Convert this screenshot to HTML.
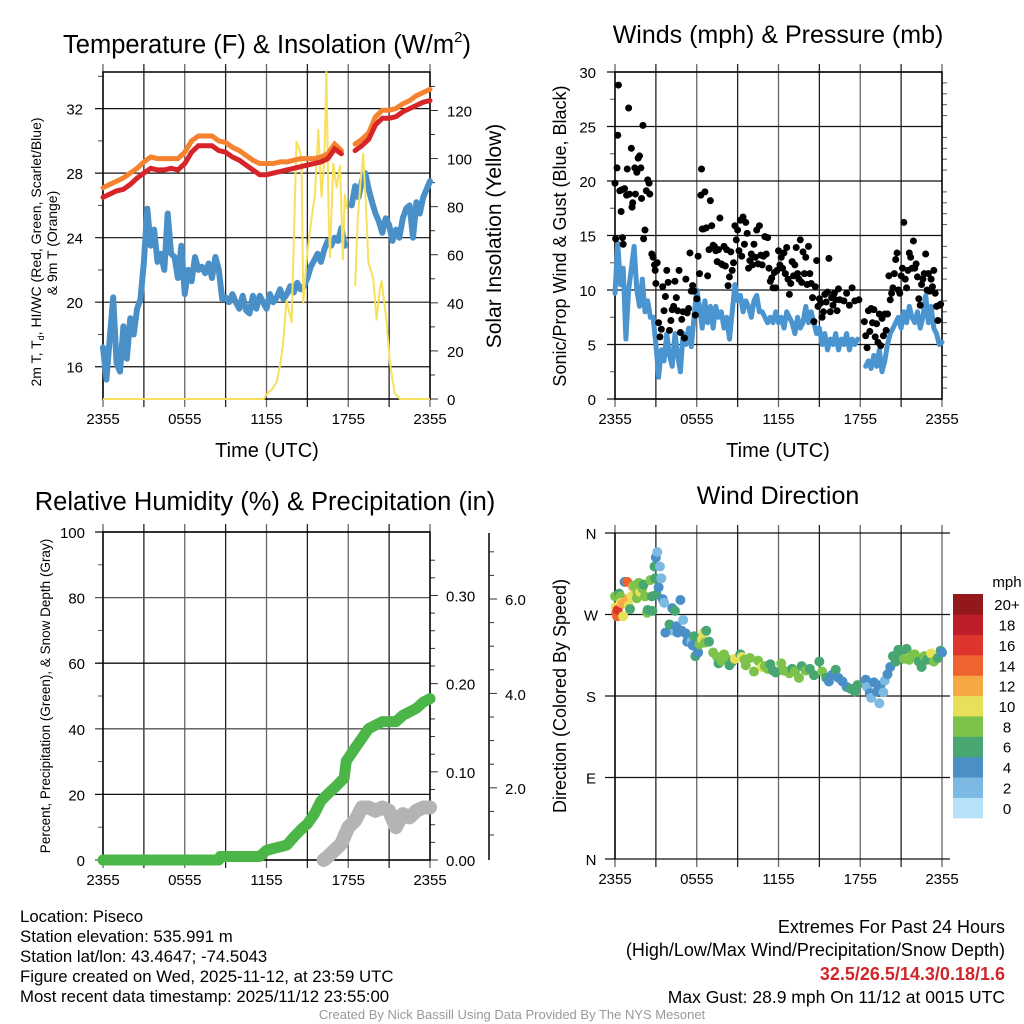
<!DOCTYPE html>
<html><head><meta charset="utf-8"><style>
html,body{margin:0;padding:0;background:#fff}
svg{display:block;font-family:"Liberation Sans",sans-serif}
</style></head><body>
<svg id="fig" width="1024" height="1024" viewBox="0 0 1024 1024"></svg>
<script>
// ---------- DATA ----------
const xTickLabels=["2355","0555","1155","1755","2355"];
const tempStep=0.5;
const temp2m=[26.5,26.7,26.9,27.0,27.3,27.7,28.0,28.3,28.2,28.2,28.3,28.2,28.6,29.3,29.7,29.7,29.7,29.4,29.3,29.0,28.8,28.5,28.2,27.9,27.9,28.0,28.1,28.2,28.3,28.4,28.5,28.6,28.7,28.9,29.5,29.2,null,29.4,29.7,30.1,31.0,31.4,31.4,31.5,31.8,32.0,32.2,32.4,32.5];
const temp9m=[27.1,27.3,27.5,27.7,28.0,28.3,28.7,29.0,28.9,28.9,28.9,28.9,29.3,30.0,30.3,30.3,30.3,30.0,29.9,29.6,29.4,29.1,28.8,28.6,28.6,28.6,28.7,28.7,28.8,28.9,28.9,28.9,29.0,29.2,29.8,29.4,null,29.8,30.1,30.5,31.5,31.9,31.9,32.0,32.3,32.5,32.8,33.0,33.2];
const dewStep=0.25;
const dewPoint=[17.2,15.2,17.8,20.3,16.2,15.7,18.5,16.5,19.0,18.0,19.6,20.2,22.5,25.8,23.5,24.5,22.5,23.0,22.0,25.5,23.0,22.8,21.5,23.5,20.5,22.0,21.3,22.8,22.0,22.2,21.8,22.4,21.5,22.8,22.0,20.2,20.3,20.0,20.5,20.0,19.6,20.4,19.5,19.3,20.4,19.6,20.4,20.0,19.6,20.5,20.0,20.3,20.8,20.2,20.5,21.0,20.6,21.2,20.8,21.0,21.5,22.2,22.6,23.0,22.5,23.3,23.8,23.5,24.0,23.8,24.6,23.5,null,26.0,27.2,26.5,27.5,28.0,27.0,26.2,25.5,25.0,24.3,25.2,24.8,23.8,24.5,24.0,25.2,25.8,26.0,24.0,26.2,25.5,26.5,27.0,27.5];
const solarHours=[0,11.8,12.0,12.4,12.74,13.0,13.2,13.47,13.84,14.05,14.2,14.4,14.57,14.7,14.9,15.06,15.3,15.55,15.8,16.04,16.25,16.4,16.55,16.65,16.9,17.14,17.4,17.6,17.75,17.9,null,18.5,18.7,18.9,19.1,19.3,19.47,19.84,20.08,20.3,20.45,20.8,21.06,21.4,21.8,24];
const solarValues=[0,0,2,4,7,14,22,41,32,75,107,104,100,40,55,64,75,85,112,84,100,136,80,59,98,88,97,58,85,79,null,47,75,90,102,80,57,50,33,45,49,33,15,2.5,0,0];
const windStep=0.2;
const windSpeed=[9.7,14.3,10.5,12.0,5.5,10.0,12.0,14.0,10,8.5,11.0,8.0,9.0,7.5,7.5,5.0,2.0,4.5,3.5,6.0,4.0,3.0,6.0,4.0,2.5,6.0,5.0,6.5,4.8,7.5,10.0,8.5,6.5,9.0,7.0,8.5,6.5,8.5,7.5,8.0,6.5,7.5,5.5,8.0,10.5,9.0,9.5,8.0,9.0,8.5,7.5,9.0,9.5,8.0,8.0,7.5,7.0,7.5,7.0,8.0,7.0,7.5,6.5,8.0,7.5,7.0,6.0,7.5,6.5,7.0,8.5,7.0,8.0,7.0,6.0,6.5,5.0,6.0,4.5,5.5,5.0,6.0,4.5,5.5,5.0,6.0,4.5,5.5,5.0,5.5,null,null,3.0,3.5,2.8,4.0,3.0,4.5,2.5,3.5,5.0,6.0,6.5,7.0,7.5,6.5,8.0,7.0,8.5,7.5,7.0,8.0,6.5,7.5,9.5,7.0,8.5,6.5,6.0,5.0,5.2];
const gustHours=[0,0.05,0.15,0.2,0.25,0.35,0.45,0.5,0.55,0.6,0.7,0.85,0.9,1.0,1.05,1.2,1.25,1.3,1.45,1.5,1.6,1.7,1.8,1.9,1.95,2.05,2.1,2.2,2.3,2.4,2.5,2.55,2.7,2.8,2.9,2.95,3.0,3.1,3.2,3.3,3.4,3.5,3.6,3.7,3.8,3.9,4.0,4.1,4.2,4.3,4.4,4.5,4.6,4.7,4.8,4.9,5.0,5.1,5.2,5.3,5.4,5.5,5.6,5.7,5.8,5.9,6.0,6.1,6.2,6.3,6.35,6.4,6.5,6.6,6.7,6.8,6.9,7.0,7.1,7.2,7.3,7.4,7.5,7.6,7.7,7.8,7.9,8.0,8.1,8.2,8.3,8.4,8.5,8.6,8.7,8.8,8.9,9.0,9.1,9.2,9.3,9.4,9.5,9.6,9.7,9.8,9.9,10.0,10.1,10.2,10.3,10.4,10.5,10.6,10.7,10.8,10.9,11.0,11.1,11.2,11.3,11.4,11.5,11.6,11.7,11.8,11.9,12.0,12.1,12.2,12.3,12.4,12.5,12.6,12.7,12.8,12.9,13.0,13.1,13.2,13.3,13.4,13.5,13.6,13.7,13.8,13.9,14.0,14.1,14.2,14.3,14.4,14.5,14.6,14.7,14.8,14.9,15.0,15.1,15.2,15.3,15.4,15.5,15.6,15.7,15.8,15.9,16.0,16.1,16.2,16.3,16.4,16.5,16.8,17.0,17.2,17.4,17.6,17.9,18.3,18.4,18.5,18.6,18.7,18.8,18.9,19.0,19.1,19.2,19.3,19.4,19.5,19.6,19.7,19.8,19.9,20.0,20.1,20.2,20.3,20.4,20.5,20.6,20.7,20.8,20.9,21.0,21.1,21.2,21.3,21.4,21.5,21.6,21.7,21.8,21.9,22.0,22.1,22.2,22.3,22.4,22.5,22.6,22.7,22.8,22.9,23.0,23.1,23.2,23.3,23.4,23.5,23.6,23.7,23.8,23.9];
const gustValues=[19.8,14.7,21.2,24.2,28.8,19.1,17.2,19.2,14.8,14.2,19.3,18.7,21.1,26.7,18.8,23.0,17.6,18.0,21.2,18.8,20.8,22.1,22.3,21.2,18.4,25.1,14.7,15.5,19.1,20.1,19.8,18.8,13.3,13.0,12.3,11.8,10.6,12.5,7.0,5.7,6.4,10.3,8.1,9.4,11.8,10.7,6.3,7.2,8.2,8.5,10.8,9.3,8.1,11.8,6.1,7.3,8.0,5.6,11.0,7.9,8.3,13.4,9.9,10.4,9.9,7.7,9.2,13.1,11.5,18.7,21.1,15.6,15.6,19.0,15.7,11.3,13.7,18.2,15.9,14.1,14.0,13.6,12.6,13.7,16.6,12.4,12.3,14.0,12.2,13.7,10.4,11.2,13.5,11.8,12.5,15.9,14.6,15.5,13.6,16.4,13.1,16.7,14.2,16.2,15.2,12.0,12.7,13.3,12.3,14.2,13.0,15.5,12.4,15.9,13.2,12.3,13.1,14.9,13.3,14.8,12.0,10.8,11.1,10.2,11.6,10.2,11.8,13.6,12.3,13.0,12.0,13.4,11.5,13.9,11.0,9.6,10.6,12.6,11.3,12.3,13.9,11.5,11.0,14.6,10.7,13.5,11.5,13.0,10.5,14.0,11.5,10.6,9.3,7.1,10.3,12.7,8.5,9.2,8.8,7.5,8.0,9.6,8.9,9.8,12.9,8.0,9.3,8.6,9.7,9.1,8.1,10.1,9.1,9.0,9.7,8.6,10.2,9.0,9.1,7.1,5.8,4.7,8.1,6.2,8.3,7.0,8.2,5.7,6.9,5.2,7.8,4.9,7.4,5.8,7.8,6.3,7.8,11.3,9.1,9.7,10.2,11.5,12.8,13.4,10.0,9.7,11.3,12.0,16.2,11.0,10.2,11.8,13.4,13.0,12.0,14.5,12.0,12.4,11.2,9.2,8.6,10.5,11.0,11.5,13.3,10.0,11.5,9.9,11.0,10.3,11.8,9.7,8.5,7.2,8.6,8.7];
const precipHours=[0,8.5,8.6,11.5,12,12.5,13,13.5,14,14.5,15,15.5,16,16.5,17,17.7,17.85,18.5,19,19.5,20,20.5,21,21.5,22,22.5,23,23.5,24];
const precipValues=[0,0,0.004,0.004,0.011,0.013,0.015,0.017,0.026,0.034,0.041,0.052,0.067,0.075,0.082,0.093,0.112,0.127,0.138,0.149,0.153,0.157,0.157,0.157,0.164,0.168,0.172,0.179,0.183];
const snowHours=[16.2,16.5,17,17.5,18,18.5,19,19.5,20,20.5,21,21.5,22,22.5,23,23.5,24];
const snowPercent=[0,1,3,5,10,12,16,16,15,16,15,10,14,13,15,16,16];
const dirHours=[0.0,0.05,0.1,0.15,0.2,0.3,0.4,0.45,0.55,0.6,0.7,0.9,0.95,1.0,1.1,1.2,1.3,1.4,1.5,1.6,1.65,1.75,1.85,2.0,2.1,2.2,2.35,2.4,2.6,2.7,2.75,2.9,2.95,3.0,3.1,3.05,3.2,3.3,3.4,3.5,3.6,4.2,4.4,4.8,4.3,3.7,4.0,4.5,4.6,4.9,5.0,5.2,5.3,5.6,5.7,5.8,5.9,6.0,6.1,6.2,6.4,6.5,6.6,6.7,6.9,7.2,7.5,7.6,7.8,8.0,8.2,8.4,8.6,8.8,9.2,9.3,9.5,9.6,9.9,10.2,10.5,10.8,11.0,11.2,11.4,11.6,11.8,12.2,12.4,12.8,13.0,13.2,13.5,13.7,14.0,14.3,14.6,15.0,15.2,15.5,15.7,15.9,16.2,16.4,16.7,17.0,17.3,17.6,17.8,18.4,18.5,18.7,18.8,19.0,19.2,19.4,19.5,19.7,19.8,20.0,20.2,20.4,20.6,20.8,21.0,21.2,21.4,21.6,21.8,22.0,22.3,22.5,22.7,22.9,23.2,23.4,23.7,23.9,24.0];
const dirDegrees=[290,278,272,268,275,293,290,283,282,268,306,306,287,280,276,290,301,302,292,288,295,305,295,299,303,290,272,275,308,290,274,323,310,333,339,292,300,323,310,287,283,277,274,286,252,250,259,257,250,252,264,249,240,240,236,246,224,233,228,237,243,250,239,252,240,228,223,216,219,226,221,214,218,221,226,223,220,214,222,207,219,212,213,210,215,208,206,216,208,205,210,207,200,213,208,210,203,218,207,200,196,203,209,200,196,190,188,185,192,198,190,183,178,195,185,172,192,184,197,204,212,224,218,231,226,221,232,220,225,226,218,212,224,220,227,218,222,230,228];
const dirSpeeds=[8,10,15,15,16,7,8,10,12,10,4,15,12,10,7,10,12,8,10,9,8,8,11,8,7,8,8,7,9,6,6,7,6,4,2,6,4,2,2,4,3,4,6,4,3,4,6,4,5,4,2,4,4,2,4,6,6,4,4,8,10,10,8,6,6,8,8,7,8,8,8,6,7,10,6,10,8,8,8,8,8,10,8,8,6,6,6,8,8,8,6,8,8,6,8,6,6,6,8,6,5,4,6,4,4,4,6,6,6,4,2,4,2,4,4,2,4,2,2,4,4,6,6,6,6,8,6,8,8,8,6,6,8,6,10,8,6,6,4];
const speedBinLabels=["0","2","4","6","8","10","12","14","16","18","20+"];
const speedBinColors=["#b5e2f8","#7cb9e3","#4a8fc6","#48a672","#7cc24b","#e7e059","#f6a845","#ef6330","#dd352d","#bd1e29","#93181c"];

// ---------- HELPERS ----------
const svg=document.getElementById('fig');
const NS='http://www.w3.org/2000/svg';
function mk(tag,attrs,parent){const e=document.createElementNS(NS,tag);for(const k in attrs)e.setAttribute(k,attrs[k]);(parent||svg).appendChild(e);return e;}
function txt(s,x,y,size,anchor,parent,extra){const t=mk('text',Object.assign({x:x,y:y,'font-size':size,'text-anchor':anchor||'middle',fill:'#000'},extra||{}),parent);t.textContent=s;return t;}
function lin(d0,d1,r0,r1){return v=>r0+(v-d0)/(d1-d0)*(r1-r0);}
function pathFrom(xs,ys,sx,sy){let d='',pen=false;for(let i=0;i<ys.length;i++){if(ys[i]===null||xs[i]===null){pen=false;continue;}d+=(pen?'L':'M')+sx(xs[i]).toFixed(1)+','+sy(ys[i]).toFixed(1);pen=true;}return d;}
function timeGrid(g,L,R,T,B){
  const sx=lin(0,24,L,R);
  for(let i=0;i<=8;i++){const x=sx(i*3);mk('line',{x1:x,y1:T-8,x2:x,y2:B+8,stroke:i%2?'#222':'#666','stroke-width':1.3},g);}
  xTickLabels.forEach((s,i)=>{const t=txt(s,sx(i*6),B+25,15,'middle',g);});
  return sx;
}

// ---------- PANEL 1: Temperature ----------
(function(){
  const g=mk('g',{});
  const L=103,R=430,T=72,B=399;
  const sx=timeGrid(g,L,R,T,B);
  const sy=lin(14,34.27,B,T), sr=lin(0,136,B,T);
  [16,20,24,28,32].forEach(v=>{const y=sy(v);mk('line',{x1:L-8,y1:y,x2:R,y2:y,stroke:'#111','stroke-width':1.2},g);txt(String(v),83,y+6,15,'end',g);});
  [18,22,26,30,34].forEach(v=>mk('line',{x1:L-5,y1:sy(v),x2:L,y2:sy(v),stroke:'#444'},g));
  for(let v=0;v<=130;v+=10){const y=sr(v);mk('line',{x1:R,y1:y,x2:R+(v%20?5:8),y2:y,stroke:'#333'},g);if(v%20===0)txt(String(v),447,y+6,15,'start',g);}
  mk('rect',{x:L,y:T,width:R-L,height:B-T,fill:'none',stroke:'#000','stroke-width':1.5},g);
  const ti=temp2m.map((_,i)=>i*tempStep), di=dewPoint.map((_,i)=>i*dewStep);
  const dew=mk('path',{d:pathFrom(di,dewPoint,sx,sy),fill:'none',stroke:'#4a90c8','stroke-width':6,'stroke-linejoin':'round','stroke-linecap':'round'},g);
  
  const sol=mk('path',{d:pathFrom(solarHours,solarValues,sx,sr),fill:'none',stroke:'#f7e05a','stroke-width':2,'stroke-linejoin':'round'},g);
  
  const o=mk('path',{d:pathFrom(ti,temp9m,sx,sy),fill:'none',stroke:'#f5822e','stroke-width':5,'stroke-linecap':'round'},g);
  
  const r=mk('path',{d:pathFrom(ti,temp2m,sx,sy),fill:'none',stroke:'#d62428','stroke-width':5,'stroke-linecap':'round'},g);
  
  const t1=mk('text',{x:267,y:53,'font-size':25.5,'text-anchor':'middle'},g);t1.innerHTML='Temperature (F) &amp; Insolation (W/m<tspan font-size="15" dy="-11">2</tspan><tspan dy="11">)</tspan>';
  
  txt('Time (UTC)',267,457,20,'middle',g);
  const yl=mk('text',{x:0,y:0,'font-size':14,'text-anchor':'middle',transform:'translate(41,252) rotate(-90)'},g);
  yl.innerHTML='2m T, T<tspan font-size="9" dy="3">d</tspan><tspan dy="-3">, HI/WC (Red, Green, Scarlet/Blue)</tspan>';
  
  txt('& 9m T (Orange)',0,0,14,'middle',g,{transform:'translate(57,243) rotate(-90)'});
  const yr=txt('Solar Insolation (Yellow)',0,0,21,'middle',g,{transform:'translate(501,236) rotate(-90)'});
  
})();

// ---------- PANEL 2: Winds ----------
(function(){
  const g=mk('g',{});
  const L=615,R=942,T=72,B=399;
  const sx=timeGrid(g,L,R,T,B);
  const sy=lin(0,30,B,T);
  for(let v=0;v<=30;v+=5){const y=sy(v);mk('line',{x1:L-8,y1:y,x2:R,y2:y,stroke:'#111','stroke-width':1.2},g);txt(String(v),596,y+6,15,'end',g);}
  for(let v=1;v<30;v++){if(v%5)mk('line',{x1:R,y1:sy(v),x2:R+5,y2:sy(v),stroke:'#555'},g);}
  for(let v=2.5;v<30;v+=5)mk('line',{x1:L-5,y1:sy(v),x2:L,y2:sy(v),stroke:'#555'},g);
  mk('rect',{x:L,y:T,width:R-L,height:B-T,fill:'none',stroke:'#000','stroke-width':1.5},g);
  const wi=windSpeed.map((_,i)=>i*windStep);
  const w=mk('path',{d:pathFrom(wi,windSpeed,sx,sy),fill:'none',stroke:'#4a94d0','stroke-width':5,'stroke-linejoin':'round','stroke-linecap':'round'},g);
  
  gustHours.forEach((h,i)=>{const c=mk('circle',{cx:sx(h),cy:sy(gustValues[i]),r:3.5,fill:'#000'},g);
    });
  const t=txt('Winds (mph) & Pressure (mb)',778,43,25,'middle',g);
  txt('Time (UTC)',778,457,20,'middle',g);
  const yl=txt('Sonic/Prop Wind & Gust (Blue, Black)',0,0,18,'middle',g,{transform:'translate(566,236) rotate(-90)'});
  
})();

// ---------- PANEL 3: RH & Precip ----------
(function(){
  const g=mk('g',{});
  const L=103,R=430,T=532,B=860;
  const sx=timeGrid(g,L,R,T,B);
  const sy=lin(0,100,B,T), sp=lin(0,0.372,B,T);
  for(let v=0;v<=100;v+=20){const y=sy(v);mk('line',{x1:L-8,y1:y,x2:R,y2:y,stroke:v%40?'#111':'#555','stroke-width':1.3},g);txt(String(v),85,y+6,15,'end',g);}
  for(let v=10;v<100;v+=20)mk('line',{x1:L-5,y1:sy(v),x2:L,y2:sy(v),stroke:'#555'},g);
  for(let v=0;v<=0.36;v+=0.02){const y=sp(v);const maj=Math.round(v*100)%10===0;mk('line',{x1:R,y1:y,x2:R+(maj?8:5),y2:y,stroke:'#333'},g);if(maj)txt(v.toFixed(2),446,y+6,15,'start',g);}
  mk('line',{x1:489,y1:533,x2:489,y2:860,stroke:'#000','stroke-width':1.5},g);
  for(let k=-3;k<=10;k++){const y=599+k*23.6;if(y<540||y>856)continue;mk('line',{x1:489,y1:y,x2:(k%4===0)?497:494,y2:y,stroke:'#333'},g);}
  [['6.0',599],['4.0',694],['2.0',788]].forEach(a=>txt(a[0],505,a[1]+6,15,'start',g));
  mk('rect',{x:L,y:T,width:R-L,height:B-T,fill:'none',stroke:'#000','stroke-width':1.5},g);
  const s=mk('path',{d:pathFrom(snowHours,snowPercent,sx,sy),fill:'none',stroke:'#b4b4b4','stroke-width':14,'stroke-linejoin':'round','stroke-linecap':'round'},g);
  
  const p=mk('path',{d:pathFrom(precipHours,precipValues,sx,sp),fill:'none',stroke:'#4bb548','stroke-width':11,'stroke-linejoin':'round','stroke-linecap':'round'},g);
  
  const t=txt('Relative Humidity (%) & Precipitation (in)',265,510,25.5,'middle',g);
  const yl=txt('Percent, Precipitation (Green), & Snow Depth (Gray)',0,0,13.5,'middle',g,{transform:'translate(50,696) rotate(-90)'});
  
})();

// ---------- PANEL 4: Wind Direction ----------
(function(){
  const g=mk('g',{});
  const L=615,R=942,T=533,B=859;
  const sx=timeGrid(g,L,R,T,B);
  const sy=lin(0,360,B,T);
  [['N',360],['W',270],['S',180],['E',90],['N',0]].forEach(a=>{const y=sy(a[1]);mk('line',{x1:L-10,y1:y,x2:R+8,y2:y,stroke:'#111','stroke-width':1.2},g);txt(a[0],591,y+6,15,'middle',g);});
  mk('line',{x1:L,y1:T,x2:L,y2:B,stroke:'#000','stroke-width':1.5},g);
  dirHours.forEach((h,i)=>{const b=Math.min(10,Math.floor(dirSpeeds[i]/2));
    const c=mk('circle',{cx:sx(h),cy:sy(dirDegrees[i]),r:5,fill:speedBinColors[b]},g);
    });
  const cb=mk('g',{},g);
  const bh=(818-594)/11;
  speedBinColors.forEach((c,i)=>{const y=818-(i+1)*bh;mk('rect',{x:953,y:y,width:30,height:bh+0.3,fill:c},cb);txt(speedBinLabels[i],1007,y+bh/2+6,15,'middle',cb);});
  txt('mph',1007,587,15,'middle',cb);
  const t=txt('Wind Direction',778,504,25,'middle',g);
  const yl=txt('Direction (Colored By Speed)',0,0,18,'middle',g,{transform:'translate(566,696) rotate(-90)'});
  
})();

// ---------- FOOTER ----------
(function(){
  const g=mk('g',{});
  ['Location: Piseco','Station elevation: 535.991 m','Station lat/lon: 43.4647; -74.5043','Figure created on Wed, 2025-11-12, at 23:59 UTC','Most recent data timestamp: 2025/11/12 23:55:00'].forEach((s,i)=>txt(s,20,922+i*20,16.8,'start',g));
  const h=mk('g',{});
  txt('Extremes For Past 24 Hours',1005,933,18,'end',h);
  txt('(High/Low/Max Wind/Precipitation/Snow Depth)',1005,956,18,'end',h);
  txt('32.5/26.5/14.3/0.18/1.6',1005,980,18,'end',h,{fill:'#d0262b','font-weight':'bold'});
  txt('Max Gust: 28.9 mph On 11/12 at 0015 UTC',1005,1003,17.5,'end',h);
  const c=txt('Created By Nick Bassill Using Data Provided By The NYS Mesonet',512,1019,13,'middle',null,{fill:'#999'});
  
})();
</script>
</body></html>
